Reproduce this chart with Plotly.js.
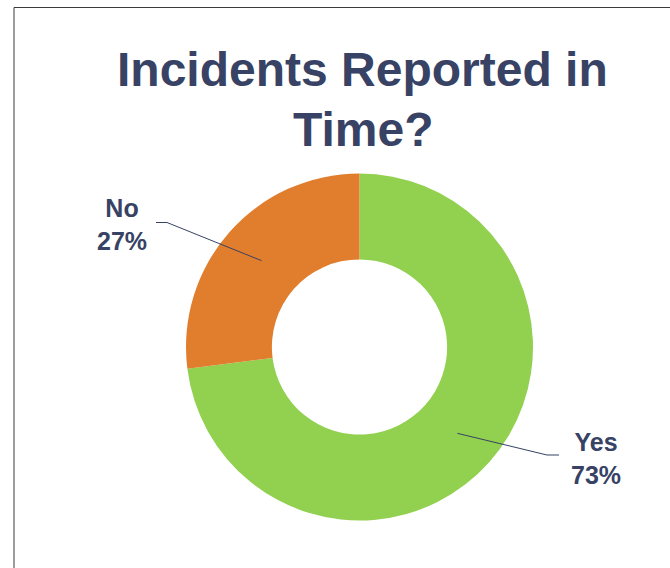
<!DOCTYPE html>
<html>
<head>
<meta charset="utf-8">
<script src="https://cdn.plot.ly/plotly-3.0.1.min.js"></script>
<style>html,body{margin:0;padding:0;background:#fff;}#chart{width:670px;height:568px;}</style>
</head>
<body>
<div id="chart"></div>
<script>
// ---- data ----
const categories = ["Yes", "No"];
const values = [73, 27];
const sliceColors = ["#92D050", "#E07E2E"];
const titleLines = ["Incidents Reported in", "Time?"];

// ---- layout constants (pixels) ----
const W = 670, H = 568;
const cx = 359.5, cy = 347, R = 173.5;
const hole = 0.505;
const textColor = "#374264";
const X = px => px / W;
const Y = py => 1 - py / H;

const total = values.reduce((a, b) => a + b, 0);
const labels = values.map((v, i) => categories[i] + "<br>" + Math.round(v / total * 100) + "%");

// label anchors (elbow point, end of horizontal tick, text center)
const labelPos = [
  {elbow: [547, 455], end: [559, 455], text: [596, 458]},
  {elbow: [167, 222.5], end: [156, 222.5], text: [122, 225]}
];

const shapes = [
  {type: "line", xref: "paper", yref: "paper", x0: X(14), x1: X(14), y0: Y(7.5), y1: Y(H + 5), line: {color: "#3a3a3a", width: 1}},
  {type: "line", xref: "paper", yref: "paper", x0: X(14), x1: X(W + 5), y0: Y(7.5), y1: Y(7.5), line: {color: "#3a3a3a", width: 1}}
];
const annotations = [];

const rMid = (R + R * hole) / 2;
let cum = 0;
values.forEach((v, i) => {
  const frac = (cum + v / 2) / total;
  cum += v;
  const th = 2 * Math.PI * frac;
  const sx = cx + rMid * Math.sin(th);
  const sy = cy - rMid * Math.cos(th);
  const lp = labelPos[i];
  shapes.push({type: "line", xref: "paper", yref: "paper", x0: X(sx), y0: Y(sy), x1: X(lp.elbow[0]), y1: Y(lp.elbow[1]), line: {color: textColor, width: 1}});
  shapes.push({type: "line", xref: "paper", yref: "paper", x0: X(lp.elbow[0]), y0: Y(lp.elbow[1]), x1: X(lp.end[0]), y1: Y(lp.end[1]), line: {color: textColor, width: 1}});
  annotations.push({xref: "paper", yref: "paper", x: X(lp.text[0]), y: Y(lp.text[1]), xanchor: "center", yanchor: "middle",
    showarrow: false, text: "<b>" + labels[i] + "</b>", align: "center",
    font: {family: "Liberation Sans, Arial, sans-serif", size: 25, color: textColor}});
});

annotations.push({xref: "paper", yref: "paper", x: X(362.5), y: Y(70), xanchor: "center", yanchor: "middle", showarrow: false,
  text: "<b>" + titleLines[0] + "</b>", font: {family: "Liberation Sans, Arial, sans-serif", size: 48, color: textColor}});
annotations.push({xref: "paper", yref: "paper", x: X(363), y: Y(129), xanchor: "center", yanchor: "middle", showarrow: false,
  text: "<b>" + titleLines[1] + "</b>", font: {family: "Liberation Sans, Arial, sans-serif", size: 48, color: textColor}});

const trace = {
  type: "pie",
  labels: categories,
  values: values,
  sort: false,
  direction: "clockwise",
  rotation: 0,
  hole: hole,
  textinfo: "none",
  hoverinfo: "skip",
  marker: {colors: sliceColors, line: {width: 0}},
  domain: {x: [X(cx - R), X(cx + R)], y: [Y(cy + R), Y(cy - R)]},
  showlegend: false
};

Plotly.newPlot("chart", [trace], {
  width: W, height: H,
  margin: {l: 0, r: 0, t: 0, b: 0},
  paper_bgcolor: "#ffffff",
  plot_bgcolor: "#ffffff",
  showlegend: false,
  shapes: shapes,
  annotations: annotations
}, {displayModeBar: false, staticPlot: true});
</script>
</body>
</html>
